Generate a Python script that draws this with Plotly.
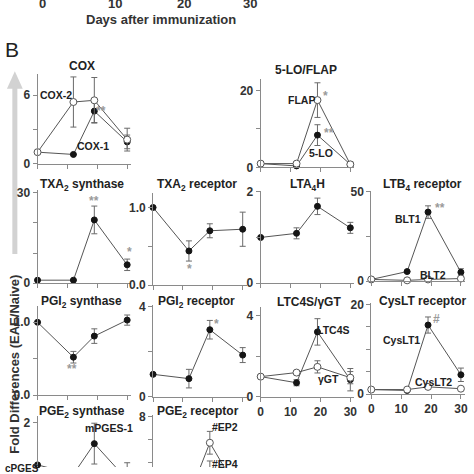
import plotly.graph_objects as go

W = H = 474
days = [0, 12, 19, 30]

# ---- data (fold differences EAE / naive) ----
cox1 = [1.0, 0.8, 4.6, 1.9]
cox1_err = [0, 0, 1.0, 0.6]
cox2 = [1.0, 5.4, 5.55, 2.1]
cox2_err = [0, 2.2, 2.0, 1.0]

flap = [1.0, 1.0, 17.5, 0.8]
flap_err = [0, 0, 4.5, 0.6]
lo5 = [1.0, 0.4, 8.4, 0.8]
lo5_err = [0, 0, 2.7, 0.5]

txas = [1.0, 1.0, 21.0, 6.1]
txas_err = [0, 0, 4.6, 1.9]
txar = [1.0, 0.44, 0.70, 0.72]
txar_err = [0, 0.13, 0.09, 0.22]

lta4h = [1.0, 1.09, 1.68, 1.21]
lta4h_err = [0, 0.12, 0.18, 0.12]
blt1 = [1.0, 5.4, 38.6, 5.0]
blt1_err = [0, 0, 3.5, 2.0]
blt2 = [1.0, 0.5, 1.0, 1.5]
blt2_err = [0, 0, 0, 0]

pgis = [1.0, 0.52, 0.81, 1.03]
pgis_err = [0, 0.08, 0.10, 0.07]
pgir = [1.0, 0.81, 2.97, 1.85]
pgir_err = [0, 0.41, 0.41, 0.33]

ltc4s = [1.0, 0.7, 3.2, 0.85]
ltc4s_err = [0, 0.15, 0.65, 0.55]
ggt = [1.0, 1.2, 1.48, 0.95]
ggt_err = [0, 0.1, 0.3, 0.3]

cyslt1 = [1.0, 0.8, 15.4, 4.3]
cyslt1_err = [0, 0, 1.8, 1.5]
cyslt2 = [1.0, 1.0, 1.6, 1.2]
cyslt2_err = [0, 0, 0.4, 0]

mpges = [1.0, 0.78, 1.5, 0.65]
mpges_err = [0, 0, 0.48, 0.4]

ep2 = [1.0, 1.0, 5.7, 0.8]
ep2_err = [0, 0, 1.0, 0]
ep4 = [1.0, 1.0, 3.5, 0.8]
ep4_err = [0, 0, 0.6, 0]

x_ticks = [0, 10, 20, 30]
x_ticklabels = ["0", "10", "20", "30"]
panelA_ticks = ["0", "10", "20", "30"]

# ---- helpers ----
def fx(p):
    return p / W

def fy(p):
    return 1 - p / H

AX = "#8a8a8a"
TXT = "#333333"
LINE = "#555555"
ERR = "#6a6a6a"
SIG = "#9a9a9a"
FONT = "Liberation Sans"

panels = [
    dict(box=(35, 130, 70, 162), yr=[0, 7.85], yt=[0, 3, 6], ytt=["0", " ", "6"],
         series=[(cox1, cox1_err, True), (cox2, cox2_err, False)], xl=False, xv=True,
         title="COX", tpos=(80, 62)),
    dict(box=(261, 356, 75, 166), yr=[0, 23], yt=[0, 10, 20], ytt=["0", " ", "20"],
         series=[(lo5, lo5_err, True), (flap, flap_err, False)], xl=False, xv=True,
         title="5-LO/FLAP", tpos=(307, 66)),
    dict(box=(35, 130, 189, 285), yr=[0, 31], yt=[0, 10, 20, 30], ytt=["0", " ", " ", "30"],
         series=[(txas, txas_err, True)], xl=False, xv=True,
         title="TXA<sub>2</sub> synthase", tpos=(80, 184)),
    dict(box=(152, 247, 192, 287), yr=[0, 1.19], yt=[0, 0.5, 1.0], ytt=["0.0", " ", "1.0"],
         series=[(txar, txar_err, True)], xl=False, xv=True,
         title="TXA<sub>2</sub> receptor", tpos=(196, 184)),
    dict(box=(261, 356, 190, 285), yr=[0, 2.02], yt=[0, 1, 2], ytt=["0", " ", "2"],
         series=[(lta4h, lta4h_err, True)], xl=False, xv=True,
         title="LTA<sub>4</sub>H", tpos=(308, 184)),
    dict(box=(373, 468, 190, 283), yr=[0, 50.5], yt=[0, 25, 50], ytt=["0", " ", "50"],
         series=[(blt1, blt1_err, True), (blt2, blt2_err, False)], xl=False, xv=True,
         title="LTB<sub>4</sub> receptor", tpos=(425, 184)),
    dict(box=(35, 130, 308, 400), yr=[0, 1.23], yt=[0, 0.5, 1.0], ytt=["0.0", " ", "1.0"],
         series=[(pgis, pgis_err, True)], xl=False, xv=True,
         title="PGI<sub>2</sub> synthase", tpos=(80, 304)),
    dict(box=(152, 247, 307, 402), yr=[0, 4.08], yt=[0, 2, 4], ytt=["0", " ", "4"],
         series=[(pgir, pgir_err, True)], xl=False, xv=True,
         title="PGI<sub>2</sub> receptor", tpos=(196, 304)),
    dict(box=(261, 356, 310, 402), yr=[0, 4.4], yt=[0, 2, 4], ytt=["0", " ", "4"],
         series=[(ltc4s, ltc4s_err, True), (ggt, ggt_err, False)], xl=True, xv=True,
         title="LTC4S/γGT", tpos=(310, 304)),
    dict(box=(373, 468, 305, 399), yr=[0, 20.4], yt=[0, 5, 10, 15, 20], ytt=["0", " ", " ", " ", "20"],
         series=[(cyslt1, cyslt1_err, True), (cyslt2, cyslt2_err, False)], xl=True, xv=True,
         title="CysLT receptor", tpos=(425, 303)),
    dict(box=(35, 130, 422, 474), yr=[0.95, 2.14], yt=[1, 2], ytt=[" ", "2"],
         series=[(mpges, mpges_err, True)], xl=False, xv=False,
         title="PGE<sub>2</sub> synthase", tpos=(80, 417)),
    dict(box=(152, 247, 421, 474), yr=[3.57, 8.1], yt=[4, 6, 8], ytt=[" ", " ", "8"],
         series=[(ep4, ep4_err, False), (ep2, ep2_err, False)], xl=False, xv=False,
         title="PGE<sub>2</sub> receptor", tpos=(198, 417)),
]

fig = go.Figure()
annotations = []

for i, p in enumerate(panels, start=1):
    sfx = "" if i == 1 else str(i)
    xl, xr, yt_, yb = p["box"]
    xa = dict(domain=[fx(xl), fx(xr)], range=[0, 31.4], anchor="y" + sfx,
              showline=True, linecolor=AX, linewidth=1, ticks="outside", ticklen=4,
              tickcolor=AX, tickvals=x_ticks, ticktext=x_ticklabels,
              showticklabels=p["xl"], showgrid=False, zeroline=False, visible=p["xv"],
              tickfont=dict(family=FONT, size=12, color=TXT, weight="bold"))
    ya = dict(domain=[max(0, fy(yb)), fy(yt_)], range=p["yr"], anchor="x" + sfx,
              showline=True, linecolor=AX, linewidth=1, ticks="outside", ticklen=4,
              tickcolor=AX, tickvals=p["yt"], ticktext=p["ytt"],
              showgrid=False, zeroline=False,
              tickfont=dict(family=FONT, size=12, color=TXT, weight="bold"))
    fig.update_layout(**{"xaxis" + sfx: xa, "yaxis" + sfx: ya})
    for vals, err, filled in p["series"]:
        errs = [e if e else None for e in err]
        fig.add_trace(go.Scatter(
            x=days, y=vals, mode="lines+markers", xaxis="x" + sfx, yaxis="y" + sfx,
            line=dict(color=LINE, width=1),
            marker=dict(size=6 if filled else 7, color="#151515" if filled else "white",
                        line=dict(color="#151515" if filled else "#555555", width=1)),
            error_y=dict(type="data", array=errs, color=ERR, thickness=1, width=3),
            cliponaxis=False, showlegend=False, hoverinfo="skip"))
    tx, ty = p["tpos"]
    annotations.append(dict(x=fx(tx), y=fy(ty), xref="paper", yref="paper", text=p["title"],
                            showarrow=False, xanchor="center", yanchor="middle",
                            font=dict(family=FONT, size=12, color="#222", weight="bold")))

# series labels
labels = [
    ("COX-2", 54, 91), ("COX-1", 91, 144), ("FLAP", 302, 97), ("5-LO", 322, 151),
    ("BLT1", 410, 219), ("BLT2", 436, 277), ("LTC4S", 334, 333), ("γGT", 330, 384),
    ("CysLT1", 404, 343), ("CysLT2", 436, 387), ("mPGES-1", 107, 434),
    ("#EP2", 225, 433), ("#EP4", 225, 471),
]
for t, x, y in labels:
    annotations.append(dict(x=fx(x), y=fy(y), xref="paper", yref="paper", text=t,
                            showarrow=False, xanchor="center", yanchor="middle",
                            font=dict(family=FONT, size=10.5, color="#222", weight="bold")))
annotations.append(dict(x=fx(0), y=fy(476), xref="paper", yref="paper", text="cPGES",
                        showarrow=False, xanchor="left", yanchor="middle",
                        font=dict(family=FONT, size=10, color="#222", weight="bold")))

# significance marks
sigs = [("**", 99, 108), ("*", 327, 93), ("**", 330, 131), ("**", 92, 201), ("*", 128, 253),
        ("*", 189, 270), ("**", 443, 208), ("**", 70, 373), ("*", 216, 327), ("#", 439, 322)]
for t, x, y in sigs:
    annotations.append(dict(x=fx(x), y=fy(y), xref="paper", yref="paper", text=t,
                            showarrow=False, xanchor="center", yanchor="middle",
                            font=dict(family=FONT, size=12, color=SIG, weight="bold")))

# panel A remnants (cropped at top)
for t, x in zip(panelA_ticks, [40, 113, 183, 250]):
    annotations.append(dict(x=fx(x), y=fy(-3), xref="paper", yref="paper", text=t,
                            showarrow=False, xanchor="center", yanchor="middle",
                            font=dict(family=FONT, size=13, color=TXT, weight="bold")))
annotations.append(dict(x=fx(160), y=fy(14), xref="paper", yref="paper",
                        text="Days after immunization", showarrow=False,
                        xanchor="center", yanchor="middle",
                        font=dict(family=FONT, size=13, color=TXT, weight="bold")))
annotations.append(dict(x=fx(0), y=fy(45), xref="paper", yref="paper", text="B",
                        showarrow=False, xanchor="left", yanchor="middle",
                        font=dict(family=FONT, size=21, color="#222")))
annotations.append(dict(x=fx(12), y=fy(368), xref="paper", yref="paper",
                        text="Fold Differences (EAE/Naive)", showarrow=False, textangle=-90,
                        xanchor="center", yanchor="middle",
                        font=dict(family=FONT, size=13, color=TXT, weight="bold")))

shapes = [
    dict(type="line", xref="paper", yref="paper", x0=fx(12), x1=fx(12), y0=fy(255), y1=fy(82),
         line=dict(color="#d2d2d2", width=5), layer="below"),
    dict(type="path", xref="paper", yref="paper",
         path=f"M {fx(4)} {fy(85)} L {fx(12)} {fy(67)} L {fx(20)} {fy(85)} Z",
         fillcolor="#d2d2d2", line=dict(width=0), layer="below"),
]

fig.update_layout(width=W, height=H, autosize=False,
                  margin=dict(l=0, r=0, t=0, b=0),
                  paper_bgcolor="white", plot_bgcolor="white",
                  annotations=annotations, shapes=shapes, showlegend=False)

fig.write_html("out.html", config={"displayModeBar": False},
               post_script="document.body.style.margin='0';document.body.style.padding='0';")
